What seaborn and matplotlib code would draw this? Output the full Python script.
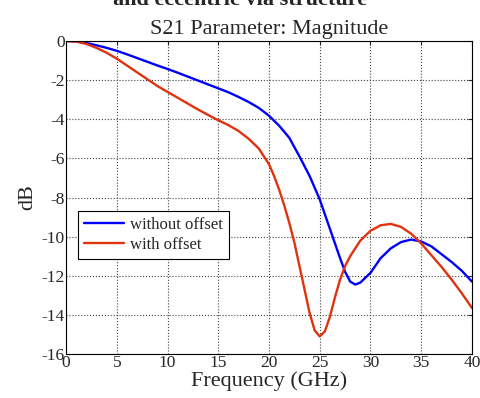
import matplotlib
matplotlib.use("Agg")
import matplotlib.pyplot as plt
import seaborn as sns
import pandas as pd

freq_without = [0, 1, 2, 3, 4, 5, 6, 7, 8, 9, 10, 11, 12, 13, 14, 15, 16, 17, 18, 19, 20,
                21, 22, 23, 24, 25, 26, 27, 27.5, 28, 28.5, 29, 30, 31, 32, 33, 34, 35,
                36, 37, 38, 39, 40]
db_without = [0, -0.02, -0.1, -0.22, -0.35, -0.5, -0.68, -0.87, -1.06, -1.25, -1.43, -1.62,
              -1.82, -2.02, -2.22, -2.42, -2.62, -2.86, -3.12, -3.42, -3.82, -4.33, -4.95,
              -5.9, -6.9, -8.1, -9.6, -11.1, -11.8, -12.3, -12.45, -12.35, -11.85, -11.1,
              -10.6, -10.28, -10.15, -10.25, -10.5, -10.9, -11.3, -11.75, -12.3]

freq_with = [0, 1, 2, 3, 4, 5, 6, 7, 8, 9, 10, 11, 12, 13, 14, 15, 16, 17, 18, 19, 20,
             20.5, 21, 21.5, 22, 22.5, 23, 23.5, 24, 24.5, 25, 25.5, 26, 26.5, 27, 27.5,
             28, 29, 30, 31, 32, 33, 34, 35, 36, 37, 38, 39, 40]
db_with = [0, -0.03, -0.15, -0.35, -0.6, -0.9, -1.25, -1.6, -1.95, -2.3, -2.6, -2.9, -3.2,
           -3.5, -3.78, -4.05, -4.3, -4.6, -5.0, -5.5, -6.3, -6.9, -7.6, -8.4, -9.3, -10.3,
           -11.5, -12.7, -13.9, -14.8, -15.1, -14.85, -14.1, -13.1, -12.2, -11.5, -11.0,
           -10.2, -9.7, -9.42, -9.35, -9.5, -9.85, -10.35, -10.95, -11.55, -12.2, -12.9,
           -13.65]

series_names = ["without offset", "with offset"]
x_ticks = [0, 5, 10, 15, 20, 25, 30, 35, 40]
y_ticks = [-16, -14, -12, -10, -8, -6, -4, -2, 0]

df = pd.concat([
    pd.DataFrame({"f": freq_without, "dB": db_without, "s": series_names[0]}),
    pd.DataFrame({"f": freq_with, "dB": db_with, "s": series_names[1]}),
], ignore_index=True)

sns.set_style("white")
plt.rcParams["font.family"] = ["Liberation Serif", "DejaVu Serif"]

fig = plt.figure(figsize=(4.81, 3.98), dpi=100)
ax = fig.add_axes([66 / 481, 1 - 354 / 398, (472 - 66) / 481, (354 - 41) / 398])

sns.lineplot(data=df, x="f", y="dB", hue="s", hue_order=series_names,
             palette=["#0000FF", "#E0320C"], linewidth=1.7, ax=ax, sort=False,
             estimator=None)

ax.set_xlim(0, 40)
ax.set_ylim(-16, 0)
ax.set_xticks(x_ticks)
ax.set_yticks(y_ticks)
ax.set_xticklabels([str(t) for t in x_ticks], fontsize=12.5)
ax.set_yticklabels([str(t) for t in y_ticks], fontsize=12.5)
ax.tick_params(direction="in", top=True, right=True, length=3, width=0.8, pad=1)
ax.grid(True, linestyle=":", color="#444444", linewidth=0.8)
for sp in ax.spines.values():
    sp.set_color("black")
    sp.set_linewidth(0.8)

ax.set_xlabel("Frequency (GHz)", fontsize=16, labelpad=0)
ax.set_ylabel("dB", fontsize=16, labelpad=3)
ax.set_title("S21 Parameter: Magnitude", fontsize=16, pad=5)
fig.text(0.5, 1.0, "and eccentric via structure", ha="center", va="center",
         fontsize=16, fontweight="bold")

leg = ax.legend(loc="upper left", bbox_to_anchor=((78 - 66) / 406, 1 - (211 - 41) / 313),
                frameon=True, fancybox=False, fontsize=12, handlelength=2.4,
                borderpad=0.35, labelspacing=0.25, handletextpad=0.4, borderaxespad=0)
leg.get_frame().set_edgecolor("black")
leg.get_frame().set_linewidth(0.8)
leg.get_frame().set_alpha(1)

fig.savefig("out.png", dpi=100)
